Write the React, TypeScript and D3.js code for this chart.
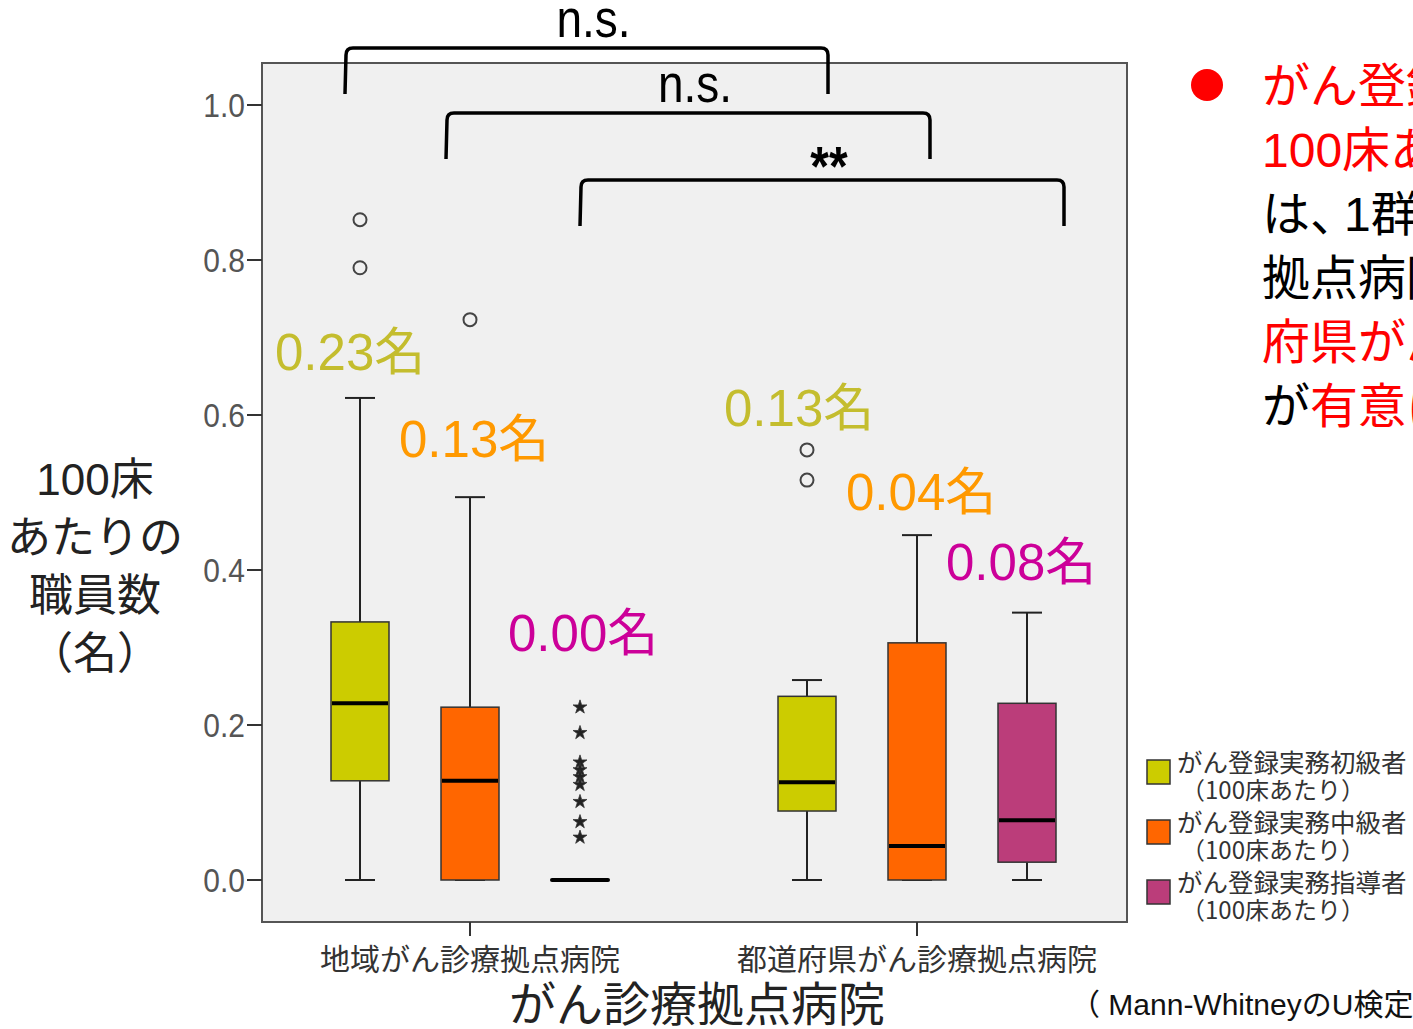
import React, { useEffect } from "react";
import * as d3 from "d3";

const groups = ["地域がん診療拠点病院", "都道府県がん診療拠点病院"];
const seriesNames = ["がん登録実務初級者", "がん登録実務中級者", "がん登録実務指導者"];
const seriesColors = ["#cccc00", "#ff6600", "#bb3d7a"];
const labelColors = ["#c4bd2e", "#ff9900", "#cc0099"];
// [min, q1, median, q3, max] per group per series
const boxStats = [
  [
    [0, 0.128, 0.228, 0.333, 0.622],
    [0, 0, 0.128, 0.223, 0.494],
    [0, 0, 0, 0, 0],
  ],
  [
    [0, 0.089, 0.126, 0.237, 0.258],
    [0, 0, 0.044, 0.306, 0.445],
    [0, 0.023, 0.077, 0.228, 0.345],
  ],
];
const circleOutliers = [
  [[0.852, 0.79], [0.723], []],
  [[0.555, 0.516], [], []],
];
const starOutliers = [
  [[], [], [0.223, 0.19, 0.152, 0.142, 0.133, 0.123, 0.101, 0.075, 0.055]],
  [[], [], []],
];
const medianLabels = [
  ["0.23名", "0.13名", "0.00名"],
  ["0.13名", "0.04名", "0.08名"],
];
const labelValues = [
  [0.658, 0.546, 0.296],
  [0.586, 0.477, 0.387],
];
const yTicks = [0, 0.2, 0.4, 0.6, 0.8, 1.0];
const brackets = [
  { from: [0, 0], to: [1, 0], label: "n.s.", level: 1.0735 },
  { from: [0, 1], to: [1, 1], label: "n.s.", level: 0.9897 },
  { from: [0, 2], to: [1, 2], label: "**", level: 0.9032 },
];
const yLabelLines = ["100床", "あたりの", "職員数", "（名）"];
const noteLines = [
  [{ t: "がん登録実務指導者の", c: "red" }],
  [{ t: "100床あたりの職員数", c: "red" }],
  [{ t: "は", c: "black" }, { t: "、", c: "black", narrow: true }, { t: "1群（地域がん診療", c: "black" }],
  [{ t: "拠点病院）より2群（都道", c: "black" }],
  [{ t: "府県がん診療拠点病院）", c: "red" }],
  [{ t: "が", c: "black" }, { t: "有意に多い", c: "red" }],
];

const FONT = "'Liberation Sans', Arial, 'Noto Sans CJK JP', sans-serif";
const CJK = "'Noto Sans CJK JP', sans-serif";

export default function App() {
  useEffect(() => {
    document.body.style.margin = "0";
  }, []);

  const y = d3.scaleLinear().domain([0, 1]).range([880, 105]);
  const gx = d3.scalePoint<string>().domain(groups).range([470, 917]);
  const sx = d3.scalePoint<string>().domain(seriesNames).range([-110, 110]);
  const cx = (g: number, s: number) => (gx(groups[g]) as number) + (sx(seriesNames[s]) as number);
  const boxW = 58;
  const capW = 30;
  const star = d3.symbol().type(d3.symbolStar).size(60)();
  const labelDx = [
    [-85, -71, -72],
    [-83, -71, -81],
  ];
  const bracketDx = [
    [-15, 21],
    [-24, 13],
    [0, 37],
  ];

  const plot = { x0: 262, x1: 1127, y0: 63, y1: 922 };

  return (
    <svg width={1413} height={1029} style={{ display: "block", fontFamily: FONT }}>
      <rect x={0} y={0} width={1413} height={1029} fill="#fff" />
      <rect x={plot.x0} y={plot.y0} width={plot.x1 - plot.x0} height={plot.y1 - plot.y0} fill="#f0f0f0" stroke="#555" strokeWidth={2} />
      {/* y axis */}
      {yTicks.map((t) => (
        <g key={t}>
          <line x1={247} x2={plot.x0} y1={y(t)} y2={y(t)} stroke="#333" strokeWidth={2} />
          <text x={245} y={y(t)} dy="0.36em" textAnchor="end" fontSize={30} fill="#555" transform={`translate(0,${y(t)}) scale(1,1.12) translate(0,${-y(t)})`}>
            {t.toFixed(1)}
          </text>
        </g>
      ))}
      {/* x axis ticks */}
      {groups.map((g) => (
        <g key={g}>
          <line x1={gx(g)} x2={gx(g)} y1={plot.y1} y2={plot.y1 + 14} stroke="#333" strokeWidth={2} />
          <text x={gx(g)} y={970} textAnchor="middle" fontSize={30} fill="#333" fontFamily={CJK}>
            {g}
          </text>
        </g>
      ))}
      <text x={697} y={1021} textAnchor="middle" fontSize={47} fill="#222" fontFamily={CJK}>
        がん診療拠点病院
      </text>
      {yLabelLines.map((l, i) => (
        <text key={i} x={95} y={495 + i * 58} textAnchor="middle" fontSize={44} fill="#222">
          {l}
        </text>
      ))}
      {/* boxes */}
      {boxStats.map((gs, g) =>
        gs.map((st, s) => {
          const c = cx(g, s);
          const [mn, q1, md, q3, mx] = st;
          const flat = q1 === q3;
          return (
            <g key={`${g}-${s}`}>
              {!flat && (
                <>
                  <line x1={c} x2={c} y1={y(mx)} y2={y(q3)} stroke="#222" strokeWidth={2} />
                  <line x1={c} x2={c} y1={y(q1)} y2={y(mn)} stroke="#222" strokeWidth={2} />
                  <line x1={c - capW / 2} x2={c + capW / 2} y1={y(mx)} y2={y(mx)} stroke="#222" strokeWidth={2} />
                  <line x1={c - capW / 2} x2={c + capW / 2} y1={y(mn)} y2={y(mn)} stroke="#222" strokeWidth={2} />
                  <rect x={c - boxW / 2} y={y(q3)} width={boxW} height={y(q1) - y(q3)} fill={seriesColors[s]} stroke="#333" strokeWidth={1.5} />
                </>
              )}
              <line x1={c - boxW / 2 + 1} x2={c + boxW / 2 - 1} y1={y(md)} y2={y(md)} stroke="#000" strokeWidth={4} strokeLinecap={flat ? "round" : "butt"} />
              {circleOutliers[g][s].map((v, i) => (
                <circle key={i} cx={c} cy={y(v)} r={6.5} fill="none" stroke="#444" strokeWidth={2} />
              ))}
              {starOutliers[g][s].map((v, i) => (
                <path key={i} d={star as string} transform={`translate(${c},${y(v)})`} fill="#222" stroke="#333" strokeWidth={0.8} />
              ))}
            </g>
          );
        })
      )}
      {/* median labels */}
      {medianLabels.map((gl, g) =>
        gl.map((l, s) => (
          <text key={`${g}-${s}`} x={cx(g, s) + labelDx[g][s]} y={y(labelValues[g][s])} fontSize={51} fill={labelColors[s]}>
            {l}
          </text>
        ))
      )}
      {/* brackets */}
      {brackets.map((b, i) => {
        const xa = cx(b.from[0], b.from[1]) + bracketDx[i][0];
        const xb = cx(b.to[0], b.to[1]) + bracketDx[i][1];
        const top = y(b.level);
        const bot = top + 46;
        const r = 7;
        const p = `M${xa},${bot} L${xa + 1},${top + r} Q${xa + 1},${top} ${xa + r + 1},${top} L${xb - r},${top} Q${xb},${top} ${xb},${top + r} L${xb},${bot}`;
        const isStar = b.label === "**";
        const tx = (xa + xb) / 2 + 7;
        const ty = isStar ? top + 5 : top - 11;
        return (
          <g key={i}>
            <path d={p} fill="none" stroke="#000" strokeWidth={3.5} />
            <text
              x={tx}
              y={ty}
              textAnchor="middle"
              fontSize={isStar ? 48 : 46}
              fontWeight={isStar ? "bold" : "normal"}
              fill="#000"
              transform={`translate(0,${ty}) scale(1,1.15) translate(0,${-ty})`}
            >
              {b.label}
            </text>
          </g>
        );
      })}
      {/* legend */}
      {seriesNames.map((n, i) => (
        <g key={n}>
          <rect x={1147} y={760 + i * 60} width={23} height={24} fill={seriesColors[i]} stroke="#333" strokeWidth={1.5} />
          <text x={1177} y={772 + i * 60} fontSize={25.5} fill="#333" fontFamily={CJK}>
            {n}
          </text>
          <text x={1181} y={799 + i * 60} fontSize={24} fill="#333" fontFamily={CJK}>
            （100床あたり）
          </text>
        </g>
      ))}
      <text x={1070} y={1015} fontSize={30} fill="#111">
        （ Mann-WhitneyのU検定）
      </text>
      {/* right annotation */}
      <circle cx={1207} cy={85} r={16} fill="red" />
      {noteLines.map((line, i) => (
        <text key={i} x={1262} y={103 + i * 64} fontSize={48}>
          {line.map((seg: any, j) => (
            <tspan key={j} fill={seg.c} dx={seg.narrow ? 0 : j > 0 && line[j - 1].narrow ? -14 : 0}>
              {seg.t}
            </tspan>
          ))}
        </text>
      ))}
    </svg>
  );
}
